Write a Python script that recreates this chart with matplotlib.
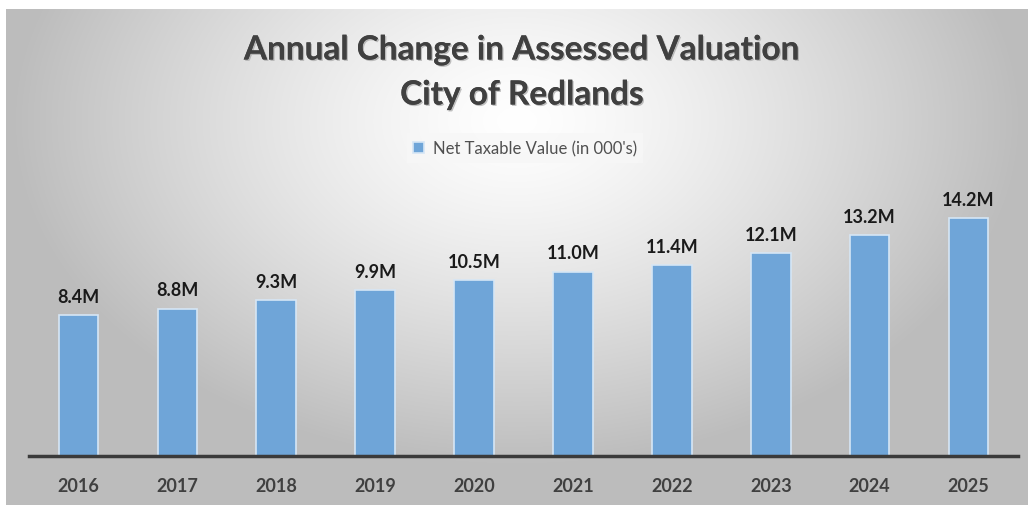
#!/usr/bin/env python3
"""
Annual change in assessed valuation, City of Redlands.
"""

import matplotlib.pyplot as plt
import matplotlib.patheffects as pe
import numpy as np

years = ['2016', '2017', '2018', '2019', '2020', '2021', '2022', '2023', '2024', '2025']
values = [8.4, 8.8, 9.3, 9.9, 10.5, 11.0, 11.4, 12.1, 13.2, 14.2]
value_labels = ['8.4M', '8.8M', '9.3M', '9.9M', '10.5M', '11.0M', '11.4M', '12.1M', '13.2M', '14.2M']
series_name = "Net Taxable Value (in 000's)"

W, H = 1029, 506
fig = plt.figure(figsize=(W / 100, H / 100), dpi=100)
fig.patch.set_facecolor('white')

# Radial grey gradient panel
bg = fig.add_axes([6 / W, 0, (1028 - 6) / W, (506 - 10) / H], zorder=0)
gx, gy = np.meshgrid(np.linspace(-1, 1, 600), np.linspace(-1, 1, 300))
r = np.sqrt(((gx - 0.0) / 1.1) ** 2 + ((gy + 0.55) / 1.55) ** 2)
shade = np.clip(1.0 - 0.30 * r ** 1.3, 0.74, 1.0)
bg.imshow(np.dstack([shade, shade, shade]), aspect='auto', extent=[0, 1, 0, 1],
          origin='upper', interpolation='bicubic')
bg.axis('off')

# Main plot area
ax = fig.add_axes([29 / W, (H - 457) / H, (1018 - 29) / W, (457 - 160) / H], zorder=1)
ax.patch.set_alpha(0)
x = np.arange(len(years))
bars = ax.bar(x, values, width=0.4, color='#6FA5D8', edgecolor='#D6E6F5',
              linewidth=1.2, label=series_name)
ax.set_xlim(-0.5, len(years) - 0.5)
ax.set_ylim(0, (457 - 160) / 16.75)

for xi, v, lab in zip(x, values, value_labels):
    ax.annotate(lab, (xi, v), xytext=(0, 13.5), textcoords='offset points',
                ha='center', va='center', fontsize=13, fontweight='bold',
                color='#1a1a1a', family='Lato')

for s in ['top', 'right', 'left']:
    ax.spines[s].set_visible(False)
ax.spines['bottom'].set_color('#3a3a3a')
ax.spines['bottom'].set_linewidth(2.5)
ax.set_yticks([])
ax.set_xticks(x)
ax.set_xticklabels(years, fontsize=13, fontweight='bold', color='#404040', family='Lato')
ax.tick_params(axis='x', length=0, pad=15)

# Title with soft shadow
shadow = [pe.withSimplePatchShadow(offset=(1, -1), shadow_rgbFace='#999999', alpha=0.6),
          pe.Normal()]
fig.text(522 / W, 1 - 51 / H, 'Annual Change in Assessed Valuation', ha='center', va='center',
         fontsize=24, fontweight='bold', color='#404040', family='Lato', path_effects=shadow)
fig.text(522 / W, 1 - 96 / H, 'City of Redlands', ha='center', va='center',
         fontsize=24, fontweight='bold', color='#404040', family='Lato', path_effects=shadow)

leg = fig.legend(handles=[bars], labels=[series_name], loc='center',
                 bbox_to_anchor=(525 / W, 1 - 149 / H), frameon=True, fancybox=False,
                 handlelength=0.65, handleheight=0.65, handletextpad=0.5,
                 prop={'family': 'Lato', 'size': 12})
leg.get_frame().set_facecolor('#f7f7f7')
leg.get_frame().set_edgecolor('none')
leg.get_frame().set_alpha(0.8)
for t in leg.get_texts():
    t.set_color('#505050')

plt.savefig('out.png', dpi=100)
